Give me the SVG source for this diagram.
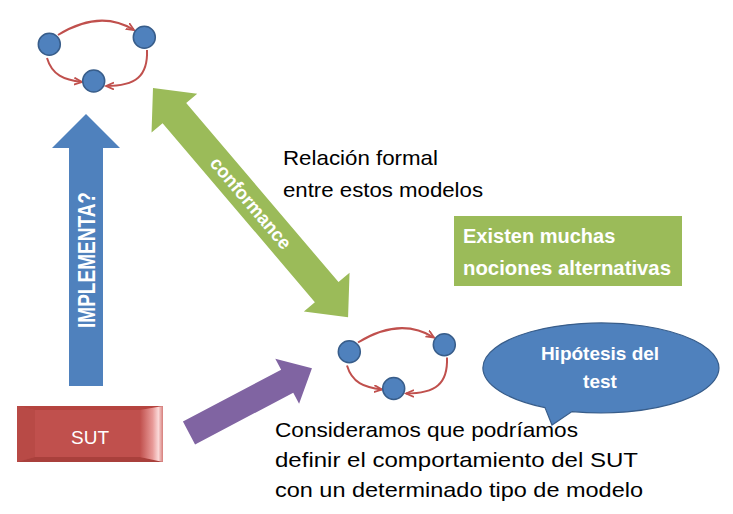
<svg xmlns="http://www.w3.org/2000/svg" width="733" height="514" viewBox="0 0 733 514">
<defs>
<marker id="ah" markerUnits="userSpaceOnUse" markerWidth="12" markerHeight="12" refX="8" refY="4" orient="auto">
<path d="M0,0.5 L8,4 L0,7.5" fill="none" stroke="#c0504d" stroke-width="1.8"/>
</marker>
<linearGradient id="rb" x1="0" y1="0" x2="1" y2="0">
<stop offset="0" stop-color="#c0504d"/>
<stop offset="0.55" stop-color="#e89a98"/>
<stop offset="0.8" stop-color="#fbd9d8"/>
<stop offset="1" stop-color="#d67e7b"/>
</linearGradient>
<style>
.nd{fill:#4f81bd;stroke:#385d8a;stroke-width:1.5}
.ed{fill:none;stroke:#c0504d;stroke-width:2;marker-end:url(#ah)}
.t{font-family:"Liberation Sans",Arial,sans-serif}
.wb{fill:#fff;font-weight:bold}
.bk{fill:#000;font-size:21px}
</style>
</defs>
<g id="connectors">
<g id="graph1-edges">
<path class="ed" d="M58,35 Q100,9 134,30"/>
<path class="ed" d="M147,50 C148,76 136,86 106,86"/>
<path class="ed" d="M47,58 C52,75 64,80 82,82"/>
</g>
<g id="graph2-edges" transform="translate(300,307.5)">
<path class="ed" d="M58,35 Q100,9 134,30"/>
<path class="ed" d="M147,50 C148,76 136,86 106,86"/>
<path class="ed" d="M47,58 C52,75 64,80 82,82"/>
</g>
<g id="implementa-arrow">
<polygon points="86,114 120,148 103,148 103,386 69,386 69,148 52,148" fill="#4f81bd"/>
<text class="t wb" transform="translate(95,260) rotate(-90)" text-anchor="middle" font-size="23" textLength="136" lengthAdjust="spacingAndGlyphs">IMPLEMENTA?</text>
</g>
<g id="conformance-arrow" transform="translate(153,88) rotate(49.6)">
<polygon points="0,0 33,-30 33,-15.5 268,-15.5 268,-30 301,0 268,30 268,15.5 33,15.5 33,30" fill="#9bbb59"/>
<text class="t wb" x="151" y="6.5" text-anchor="middle" font-size="19" textLength="114" lengthAdjust="spacingAndGlyphs">conformance</text>
</g>
<g id="purple-arrow" transform="translate(189,433) rotate(-27.8)">
<polygon points="0,-13 111,-13 111,-25.5 139,0 111,25.5 111,13 0,13" fill="#8064a2"/>
</g>
</g>
<g id="graph1-nodes">
<g id="n1a"><circle class="nd" cx="49.3" cy="44.3" r="11"/></g>
<g id="n1b"><circle class="nd" cx="144.3" cy="37.3" r="11"/></g>
<g id="n1c"><circle class="nd" cx="93.7" cy="81" r="11"/></g>
</g>
<g id="graph2-nodes" transform="translate(300,307.5)">
<g id="n2a"><circle class="nd" cx="49.3" cy="44.3" r="11"/></g>
<g id="n2b"><circle class="nd" cx="144.3" cy="37.3" r="11"/></g>
<g id="n2c"><circle class="nd" cx="93.7" cy="81" r="11"/></g>
</g>
<g id="sut">
<rect x="17" y="406" width="146" height="56" fill="#c0504d"/>
<polygon points="17,406 163,406 140,410 35,410" fill="#b5443f"/>
<polygon points="17,406 35,410 35,457 17,462" fill="#b84a46"/>
<polygon points="17,462 35,457 140,457 163,462" fill="#a9403c"/>
<polygon points="140,410 163,406 163,462 140,457" fill="url(#rb)"/>
<rect x="35" y="410" width="105" height="47" fill="#c0504d"/>
<text class="t" x="90" y="444" text-anchor="middle" font-size="19" fill="#fff">SUT</text>
</g>
<g id="relacion-text">
<text class="t bk" x="283" y="165" textLength="155" lengthAdjust="spacingAndGlyphs">Relación formal</text>
<text class="t bk" x="283" y="196.7" textLength="200" lengthAdjust="spacingAndGlyphs">entre estos modelos</text>
</g>
<g id="nociones-box">
<rect x="454" y="216" width="228" height="70" fill="#9bbb59"/>
<text class="t wb" x="463" y="243.3" font-size="20">Existen muchas</text>
<text class="t wb" x="463" y="275" font-size="20" textLength="208" lengthAdjust="spacingAndGlyphs">nociones alternativas</text>
</g>
<g id="hipotesis-callout">
<path d="M545,407.6 L552,425 L572,411.6 A118,45 0 1 0 545,407.6 Z" fill="#4f81bd" stroke="#385d8a" stroke-width="1.2"/>
<text class="t wb" x="600" y="360" text-anchor="middle" font-size="19">Hipótesis del</text>
<text class="t wb" x="600" y="388.3" text-anchor="middle" font-size="19">test</text>
</g>
<g id="consideramos-text">
<text class="t bk" x="275" y="436.7" font-size="23" textLength="303" lengthAdjust="spacingAndGlyphs">Consideramos que podríamos</text>
<text class="t bk" x="275" y="466.7" font-size="23" textLength="363" lengthAdjust="spacingAndGlyphs">definir el comportamiento del SUT</text>
<text class="t bk" x="275" y="497" font-size="23" textLength="368" lengthAdjust="spacingAndGlyphs">con un determinado tipo de modelo</text>
</g>
</svg>
